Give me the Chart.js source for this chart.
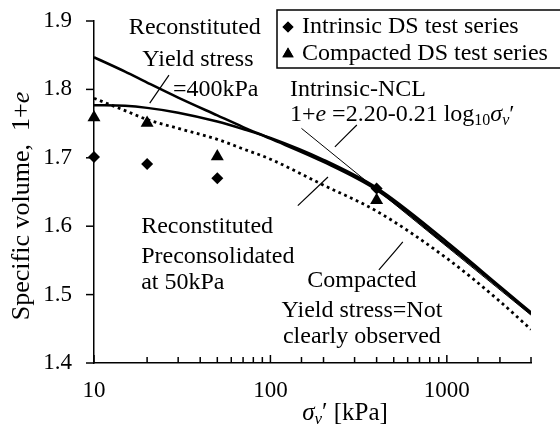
<!DOCTYPE html>
<html>
<head>
<meta charset="utf-8">
<script src="https://cdn.jsdelivr.net/npm/chart.js@4/dist/chart.umd.min.js"></script>
<style>
html, body { margin: 0; padding: 0; background: #fff; }
</style>
</head>
<body>
<canvas id="chart" width="560" height="432"></canvas>
<script>
// stress levels (kPa) the curves were read at
const curveStress = [10, 15, 20, 30, 50, 70, 100, 200, 400, 1000, 2000, 3000];
const reconYield400 = [1.847, 1.826, 1.810, 1.788, 1.762, 1.745, 1.728, 1.694, 1.653, 1.573, 1.510, 1.472];
const reconPre50 = [1.777, 1.776, 1.773, 1.766, 1.753, 1.742, 1.729, 1.697, 1.656, 1.577, 1.512, 1.474];
const compactedCurve = [1.787, 1.769, 1.756, 1.743, 1.727, 1.713, 1.698, 1.660, 1.622, 1.553, 1.490, 1.449];

// intrinsic NCL, drawn from ~150 kPa
const nclStress = [150, 3000];
const nclVolume = [1.743, 1.470];

// DS test series points
const testStress = [10, 20, 50, 400];
const intrinsicDS = [1.701, 1.691, 1.670, 1.655];
const compactedDS = [1.759, 1.751, 1.702, 1.638];

const xTickLabels = [10, 100, 1000];
const yTicks = [1.4, 1.5, 1.6, 1.7, 1.8, 1.9];

// leader lines for the labels, in data units
const leaders = [
    [[20.7, 1.780], [26.6, 1.821]],
    [[309, 1.748], [232, 1.716]],
    [[143, 1.630], [212, 1.672]],
    [[412, 1.536], [563, 1.577]]
];

const FONT = '"Liberation Serif", "Times New Roman", serif';
const TXT = 24;

function pts(xs, ys) {
    return xs.map((x, i) => ({ x: x, y: ys[i] }));
}

function setFont(ctx, size, italic) {
    ctx.font = (italic ? 'italic ' : '') + size + 'px ' + FONT;
}

// draw a row of text runs (normal / italic / subscript)
function drawRuns(ctx, runs, x, y, align, size) {
    let total = 0;
    runs.forEach(r => {
        setFont(ctx, r.sub ? Math.round(size * 0.68) : size, r.it);
        r.w = ctx.measureText(r.t).width;
        total += r.w;
    });
    let cx = align === 'center' ? x - total / 2 : x;
    ctx.textAlign = 'left';
    ctx.textBaseline = 'middle';
    runs.forEach(r => {
        setFont(ctx, r.sub ? Math.round(size * 0.68) : size, r.it);
        ctx.fillText(r.t, cx, y + (r.sub ? size * 0.25 : 0));
        cx += r.w;
    });
}

const notes = [
    { runs: [{ t: 'Reconstituted' }], x: 37.3, y: 1.890, align: 'center' },
    { runs: [{ t: 'Yield stress' }], x: 38.8, y: 1.843, align: 'center' },
    { runs: [{ t: '=400kPa' }], x: 28.0, y: 1.799, align: 'left' },
    { runs: [{ t: 'Intrinsic-NCL' }], x: 129, y: 1.799, align: 'left' },
    { runs: [{ t: '1+' }, { t: 'e', it: true }, { t: ' =2.20-0.21 log' }, { t: '10', sub: true }, { t: 'σ', it: true }, { t: 'v', it: true, sub: true }, { t: '′' }], x: 129, y: 1.763, align: 'left' },
    { runs: [{ t: 'Reconstituted' }], x: 18.5, y: 1.599, align: 'left' },
    { runs: [{ t: 'Preconsolidated' }], x: 18.5, y: 1.556, align: 'left' },
    { runs: [{ t: 'at 50kPa' }], x: 18.5, y: 1.517, align: 'left' },
    { runs: [{ t: 'Compacted' }], x: 330, y: 1.520, align: 'center' },
    { runs: [{ t: 'Yield stress=Not' }], x: 330, y: 1.476, align: 'center' },
    { runs: [{ t: 'clearly observed' }], x: 330, y: 1.438, align: 'center' }
];

const decorPlugin = {
    id: 'decor',
    beforeDraw(chart) {
        const ctx = chart.ctx;
        ctx.save();
        ctx.fillStyle = '#fff';
        ctx.fillRect(0, 0, chart.width, chart.height);
        ctx.restore();
    },
    afterDraw(chart) {
        const ctx = chart.ctx;
        const xs = chart.scales.x, ys = chart.scales.y;
        const area = chart.chartArea;
        ctx.save();
        ctx.strokeStyle = '#000';
        ctx.fillStyle = '#000';
        ctx.lineWidth = 1.5;

        // x ticks point inward
        xs.ticks.forEach(t => {
            const px = xs.getPixelForValue(t.value);
            const len = xTickLabels.includes(t.value) ? 8 : 6;
            ctx.beginPath();
            ctx.moveTo(px, area.bottom);
            ctx.lineTo(px, area.bottom - len);
            ctx.stroke();
        });
        // y ticks point outward
        yTicks.forEach(v => {
            const py = ys.getPixelForValue(v);
            ctx.beginPath();
            ctx.moveTo(area.left, py);
            ctx.lineTo(area.left - 8, py);
            ctx.stroke();
        });

        // labels on the plot
        notes.forEach(n => {
            drawRuns(ctx, n.runs, xs.getPixelForValue(n.x), ys.getPixelForValue(n.y), n.align, TXT);
        });

        // axis titles
        drawRuns(ctx, [{ t: 'σ', it: true }, { t: 'v', it: true, sub: true }, { t: '′ [kPa]' }], 345, 413, 'center', 25);
        ctx.save();
        ctx.translate(22, 206);
        ctx.rotate(-Math.PI / 2);
        drawRuns(ctx, [{ t: 'Specific volume,  1+' }, { t: 'e', it: true }], 0, 0, 'center', 26);
        ctx.restore();

        // legend box
        ctx.lineWidth = 1.5;
        ctx.strokeRect(277, 10, 290, 58);
        const items = [
            { label: 'Intrinsic DS test series', style: 'rectRot', r: 5.5, y: 27 },
            { label: 'Compacted DS test series', style: 'triangle', r: 6.5, y: 54 }
        ];
        items.forEach(it => {
            Chart.helpers.drawPoint(ctx, { pointStyle: it.style, radius: it.r, borderWidth: 0 }, 288, it.y);
            ctx.fill();
            setFont(ctx, TXT, false);
            ctx.textAlign = 'left';
            ctx.textBaseline = 'middle';
            ctx.fillText(it.label, 302, it.y);
        });
        ctx.restore();
    }
};

const lineBase = {
    borderColor: '#000',
    pointRadius: 0,
    fill: false,
    cubicInterpolationMode: 'monotone'
};

const datasets = [
    {
        label: 'Intrinsic DS test series',
        data: pts(testStress, intrinsicDS),
        showLine: false,
        pointStyle: 'rectRot',
        pointRadius: 6,
        backgroundColor: '#000',
        borderColor: '#000',
        borderWidth: 0,
        clip: false
    },
    {
        label: 'Compacted DS test series',
        data: pts(testStress, compactedDS),
        showLine: false,
        pointStyle: 'triangle',
        pointRadius: 7.5,
        backgroundColor: '#000',
        borderColor: '#000',
        borderWidth: 0,
        clip: false
    },
    Object.assign({ label: 'Reconstituted yield 400kPa', data: pts(curveStress, reconYield400), borderWidth: 2.5 }, lineBase),
    Object.assign({ label: 'Reconstituted preconsolidated 50kPa', data: pts(curveStress, reconPre50), borderWidth: 2.5 }, lineBase),
    Object.assign({ label: 'Intrinsic-NCL', data: pts(nclStress, nclVolume), borderWidth: 1 }, lineBase),
    Object.assign({ label: 'Compacted', data: pts(curveStress, compactedCurve), borderWidth: 2.8, borderDash: [2.8, 3.6] }, lineBase)
];

leaders.forEach((l, i) => {
    datasets.push(Object.assign({ label: 'leader' + i, data: pts([l[0][0], l[1][0]], [l[0][1], l[1][1]]), borderWidth: 1.2 }, lineBase));
});

new Chart(document.getElementById('chart').getContext('2d'), {
    type: 'line',
    data: { datasets },
    options: {
        responsive: false,
        animation: false,
        events: [],
        layout: { padding: { top: 21, right: 29, left: 0, bottom: 0 } },
        plugins: {
            legend: { display: false },
            tooltip: { enabled: false },
            title: { display: false }
        },
        scales: {
            x: {
                type: 'logarithmic',
                min: 10,
                max: 3000,
                grid: { display: false, drawTicks: false },
                border: { display: true, color: '#000', width: 1.5 },
                ticks: {
                    color: '#000',
                    font: { family: FONT, size: 23 },
                    padding: 14,
                    maxRotation: 0,
                    autoSkip: false,
                    callback: v => xTickLabels.includes(v) ? String(v) : ''
                },
                afterFit: s => { s.height = 69; s.paddingLeft = 0; s.paddingRight = 0; }
            },
            y: {
                min: 1.4,
                max: 1.9,
                grid: { display: false, drawTicks: false },
                border: { display: true, color: '#000', width: 1.5 },
                ticks: {
                    stepSize: 0.1,
                    color: '#000',
                    font: { family: FONT, size: 23 },
                    padding: 22,
                    callback: v => v.toFixed(1)
                },
                afterFit: s => { s.width = 94; s.paddingTop = 0; s.paddingBottom = 0; }
            }
        }
    },
    plugins: [decorPlugin]
});
</script>
</body>
</html>
